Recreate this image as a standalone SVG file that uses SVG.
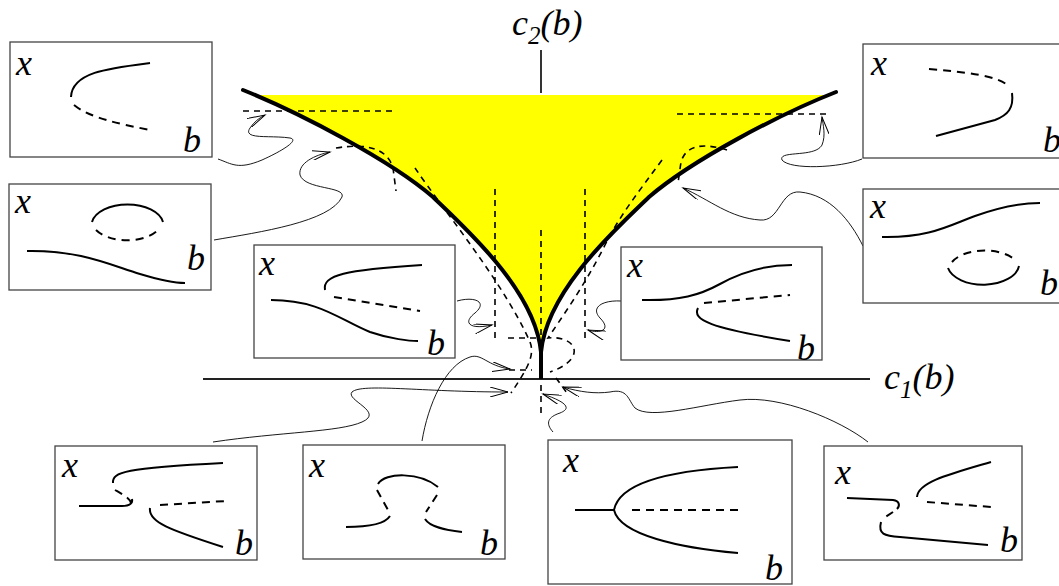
<svg xmlns="http://www.w3.org/2000/svg" width="1059" height="586" viewBox="0 0 1059 586">
<defs>
<style>
.box{fill:#fff;stroke:#444;stroke-width:1.3}
.lbl{font-family:"Liberation Serif",serif;font-style:italic;font-size:36px;fill:#000}
.s{fill:none;stroke:#000;stroke-width:2}
.d{fill:none;stroke:#000;stroke-width:2;stroke-dasharray:8 6}
.md{fill:none;stroke:#000;stroke-width:1.6;stroke-dasharray:6 5}
.cusp{fill:none;stroke:#000;stroke-width:4;stroke-linecap:round}
.con{fill:none;stroke:#000;stroke-width:0.9;marker-end:url(#arr)}
.ax{fill:none;stroke:#222;stroke-width:2}
</style>
<marker id="arr" markerUnits="userSpaceOnUse" markerWidth="20" markerHeight="10" refX="18" refY="5" orient="auto" viewBox="0 0 20 10">
<path d="M0,0 L18,5 L0,10" fill="none" stroke="#000" stroke-width="1"/>
</marker>
<clipPath id="topclip"><rect x="0" y="95" width="1059" height="400"/></clipPath>
</defs>

<g id="cusp-region">
<path d="M243,90 C300,113 390,160 433,197 C465,228 535,290 541,352 C547,290 617,228 649,197 C692,160 780,114 836,92 L836,95 L243,95 Z" fill="#ffff00" clip-path="url(#topclip)"/>
<line x1="541" y1="50" x2="541" y2="93" stroke="#000" stroke-width="1.6"/>
<line x1="203" y1="379" x2="870" y2="379" class="ax"/>
<path class="cusp" d="M243,90 C300,113 390,160 433,197 C465,228 535,290 541,352"/>
<path class="cusp" d="M836,92 C780,114 692,160 649,197 C617,228 547,290 541,352"/>
<line x1="541" y1="345" x2="541" y2="379" stroke="#000" stroke-width="4"/>
<text class="lbl" x="512" y="35">c<tspan font-size="25" dy="9">2</tspan><tspan dy="-9">(b)</tspan></text>
<text class="lbl" x="884" y="389">c<tspan font-size="25" dy="9">1</tspan><tspan dy="-9">(b)</tspan></text>
</g>

<g id="bifurcation-sets">
<path class="md" d="M243,111 L393,111"/>
<path class="md" d="M677,114 L828,114"/>
<path class="md" d="M336,148 Q385,140 393,168 L396,191"/>
<path class="md" d="M727,150 Q688,138 681,162 L678,183"/>
<path class="md" d="M415,168 C445,212 505,285 530,342 C535,355 528,368 511,393"/>
<path class="md" d="M662,160 C640,190 620,215 605,245 C585,285 560,320 548,338 C565,336 580,345 572,358 C566,366 556,370 550,372"/>
<path class="md" d="M556,378 L567,393"/>
<path class="md" d="M541,230 L541,345"/>
<path class="md" d="M541,385 L541,416"/>
<path class="md" d="M495,189 L495,338"/>
<path class="md" d="M585,189 L585,338"/>
<path class="md" d="M508,338 L540,338"/>
<path class="md" d="M509,370 L532,370"/>
</g>

<g id="connectors">
<path class="con" d="M218,159 C232,164 238,170 262,160 C282,151 300,140 290,138 C270,135 242,140 250,128 C254,122 259,118 265,115"/>
<path class="con" d="M214,240 C260,232 330,222 342,197 C346,186 305,190 300,175 C298,163 315,155 330,152"/>
<path class="con" d="M457,301 C475,296 488,302 475,313 C462,323 470,330 492,325"/>
<path class="con" d="M422,441 C428,405 445,365 470,357 C482,353 487,366 510,369"/>
<path class="con" d="M213,442 C280,432 340,432 362,422 C385,412 345,400 352,392 C362,383 420,392 508,392"/>
<path class="con" d="M553,432 C545,423 548,417 560,413 C575,407 560,400 543,394"/>
<path class="con" d="M868,442 C840,420 780,395 740,400 C700,405 650,420 635,408 C628,400 628,388 610,392 C595,394 580,392 563,387"/>
<path class="con" d="M621,301 C603,300 590,307 600,318 C612,330 600,334 588,330"/>
<path class="con" d="M862,159 C840,168 790,170 782,160 C778,150 815,158 822,145 C826,135 823,125 822,117"/>
<path class="con" d="M863,246 C850,220 830,195 800,192 C780,190 780,222 760,220 C730,218 710,200 683,188"/>
</g>

<g id="box-tl">
<rect class="box" x="10" y="42" width="202" height="115"/>
<text class="lbl" x="16" y="75">x</text>
<text class="lbl" x="183" y="152">b</text>
<path class="s" d="M150,63 C110,68 72,72 71,97"/>
<path class="d" d="M74,105 C90,118 120,124 150,130"/>
</g>

<g id="box-l2">
<rect class="box" x="9" y="184" width="202" height="106"/>
<text class="lbl" x="15" y="213">x</text>
<text class="lbl" x="187" y="270">b</text>
<path class="s" d="M92,222 A36,21 0 0 1 163,222"/>
<path class="d" d="M96,230 A36,21 0 0 0 158,230"/>
<path class="s" d="M27,251 C80,250 110,265 140,274 C160,280 175,283 185,283"/>
</g>

<g id="box-ml">
<rect class="box" x="254" y="245" width="201" height="113"/>
<text class="lbl" x="259" y="275">x</text>
<text class="lbl" x="427" y="355">b</text>
<path class="s" d="M325,290 C322,275 345,270 422,265"/>
<path class="d" d="M334,297 L420,311"/>
<path class="s" d="M271,300 C320,300 340,320 370,332 C390,339 410,341 418,341"/>
</g>

<g id="box-mr">
<rect class="box" x="621" y="247" width="201" height="113"/>
<text class="lbl" x="627" y="277">x</text>
<text class="lbl" x="797" y="360">b</text>
<path class="s" d="M642,300 C680,301 700,295 720,284 C745,270 770,265 792,265"/>
<path class="d" d="M704,303 L790,295"/>
<path class="s" d="M698,308 C692,320 710,328 790,341"/>
</g>

<g id="box-tr">
<rect class="box" x="863" y="44" width="210" height="114"/>
<text class="lbl" x="871" y="75">x</text>
<text class="lbl" x="1043" y="152">b</text>
<path class="d" d="M929,69 C965,72 1000,76 1008,86"/>
<path class="s" d="M1012,93 C1014,108 1008,115 995,120 L936,136"/>
</g>

<g id="box-r2">
<rect class="box" x="863" y="189" width="210" height="114"/>
<text class="lbl" x="870" y="218">x</text>
<text class="lbl" x="1040" y="295">b</text>
<path class="s" d="M882,237 C930,238 950,225 975,216 C1000,207 1020,203 1040,203"/>
<path class="d" d="M952,262 A36,20 0 0 1 1014,259"/>
<path class="s" d="M948,268 A36,21 0 0 0 1019,266"/>
</g>

<g id="box-b1">
<rect class="box" x="55" y="446" width="202" height="114"/>
<text class="lbl" x="62" y="477">x</text>
<text class="lbl" x="235" y="555">b</text>
<path class="s" d="M113,483 C112,472 125,468 223,463"/>
<path class="d" d="M115,490 C122,494 130,498 131,503"/>
<path class="s" d="M79,506 L122,506 C130,506 133,503 132,499"/>
<path class="d" d="M160,505 L226,501"/>
<path class="s" d="M150,508 C148,522 170,530 223,547"/>
</g>

<g id="box-b2">
<rect class="box" x="303" y="445" width="202" height="114"/>
<text class="lbl" x="309" y="477">x</text>
<text class="lbl" x="480" y="555">b</text>
<path class="s" d="M378,484 C385,472 420,472 438,487"/>
<path class="d" d="M377,490 L388,510"/>
<path class="d" d="M437,495 L426,512"/>
<path class="s" d="M346,527 C370,527 385,524 390,516"/>
<path class="s" d="M425,519 C430,527 445,530 462,532"/>
</g>

<g id="box-b3">
<rect class="box" x="548" y="440" width="244" height="144"/>
<text class="lbl" x="563" y="472">x</text>
<text class="lbl" x="765" y="580">b</text>
<path class="s" d="M575,510 L614,510"/>
<path class="s" d="M614,510 C620,480 680,470 738,467"/>
<path class="s" d="M614,510 C620,535 680,548 738,553"/>
<path class="d" d="M632,510 L740,510"/>
</g>

<g id="box-b4">
<rect class="box" x="824" y="446" width="198" height="114"/>
<text class="lbl" x="835" y="484">x</text>
<text class="lbl" x="1000" y="552">b</text>
<path class="s" d="M847,498 L893,500 C900,501 900,506 897,509"/>
<path class="d" d="M893,512 L884,518"/>
<path class="s" d="M881,522 C878,534 884,536 900,537 L988,545"/>
<path class="s" d="M917,497 C918,482 950,474 991,462"/>
<path class="d" d="M927,502 L991,507"/>
</g>
</svg>
